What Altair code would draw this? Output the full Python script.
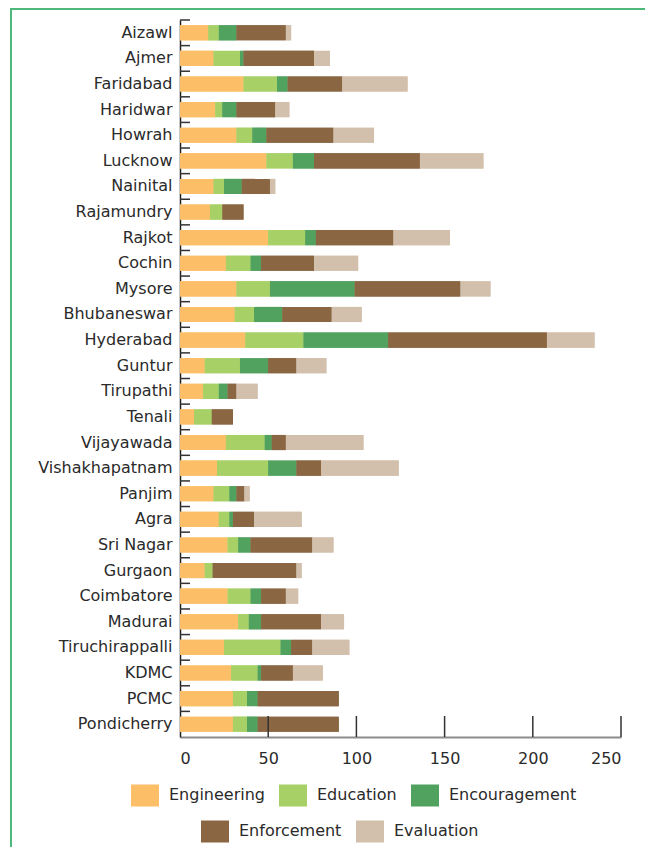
import altair as alt
import pandas as pd

cities = ["Aizawl", "Ajmer", "Faridabad", "Haridwar", "Howrah", "Lucknow", "Nainital",
          "Rajamundry", "Rajkot", "Cochin", "Mysore", "Bhubaneswar", "Hyderabad", "Guntur",
          "Tirupathi", "Tenali", "Vijayawada", "Vishakhapatnam", "Panjim", "Agra", "Sri Nagar",
          "Gurgaon", "Coimbatore", "Madurai", "Tiruchirappalli", "KDMC", "PCMC", "Pondicherry"]

engineering = [16, 19, 36, 20, 32, 49, 19, 17, 50, 26, 32, 31, 37, 14, 13, 8, 26, 21, 19, 22, 27, 14, 27, 33, 25, 29, 30, 30]
education = [6, 15, 19, 4, 9, 15, 6, 7, 21, 14, 19, 11, 33, 20, 9, 10, 22, 29, 9, 6, 6, 4.5, 13, 6, 32, 15, 8, 8]
encouragement = [10, 2, 6, 8, 8, 12, 10, 0, 6, 6, 48, 16, 48, 16, 5, 0, 4, 16, 4, 2, 7, 0, 6, 7, 6, 2, 6, 6]
enforcement = [28, 40, 31, 22, 38, 60, 16, 12, 44, 30, 60, 28, 90, 16, 5, 12, 8, 14, 4.5, 12, 35, 47.5, 14, 34, 12, 18, 46, 46]
evaluation = [3, 9, 37, 8, 23, 36, 3, 0, 32, 25, 17, 17, 27, 17, 12, 0, 44, 44, 3, 27, 12, 3, 7, 13, 21, 17, 0, 0]

series = ["Engineering", "Education", "Encouragement", "Enforcement", "Evaluation"]
colors = ["#FCBF68", "#A7D067", "#52A25F", "#8A6642", "#D2C0AC"]
x_ticks = [0, 50, 100, 150, 200, 250]

values_by_series = [engineering, education, encouragement, enforcement, evaluation]
rows = []
for si, (name, vals) in enumerate(zip(series, values_by_series)):
    for city, v in zip(cities, vals):
        if v > 0:
            rows.append({"city": city, "series": name, "value": v, "idx": si})
df = pd.DataFrame(rows)

W, H = 441, 717
N = len(cities)
step = H / N
FONT = "DejaVu Sans"
TXT = "#2a2a2a"

yscale = alt.Scale(paddingInner=0.41, paddingOuter=0.205)
cscale = alt.Scale(domain=series, range=colors)
sym_path = "M-1,-0.786H1V0.786H-1Z"


def legend(vals, lx, ly):
    return alt.Legend(
        values=vals, orient="none", legendX=lx, legendY=ly, direction="horizontal",
        title=None, symbolType=sym_path, symbolSize=784, symbolStrokeWidth=0,
        symbolOpacity=1, labelFont=FONT, labelFontSize=16, labelColor=TXT,
        labelOffset=10, columnPadding=14, padding=0, labelLimit=300,
    )


def bars(leg):
    return alt.Chart(df).mark_bar(opacity=1).encode(
        x=alt.X("value:Q", stack="zero",
                scale=alt.Scale(domain=[0, 250], nice=False),
                axis=alt.Axis(values=x_ticks, title=None, grid=False, ticks=False, tickSize=0,
                              domainColor="#8c8c8c", domainWidth=2, labelFont=FONT,
                              labelFontSize=16, labelColor=TXT, labelPadding=13)),
        y=alt.Y("city:N", sort=cities, scale=yscale,
                axis=alt.Axis(title=None, ticks=False, tickSize=0, domainColor="#222222",
                              domainWidth=1.5, labelFont=FONT, labelFontSize=16,
                              labelColor=TXT, labelPadding=8, labelLimit=300)),
        color=alt.Color("series:N", scale=cscale, legend=leg),
        order=alt.Order("idx:Q"),
    )


bars_back = bars(legend(series[3:], 21, 797))
bars_front = bars(legend(series[:3], -49, 761))

ytick_df = pd.DataFrame({"city": cities})
yticks = alt.Chart(ytick_df).mark_rule(color="#333333", strokeWidth=1.5, yOffset=-step / 2).encode(
    y=alt.Y("city:N", sort=cities, scale=yscale),
    x=alt.value(0), x2=alt.value(10),
)

xtick_df = pd.DataFrame({"v": x_ticks[1:]})
xticks = alt.Chart(xtick_df).mark_rule(color="#333333", strokeWidth=1.5).encode(
    x=alt.X("v:Q"),
    y=alt.value(H - 21), y2=alt.value(H),
)

one = pd.DataFrame({"k": [0]})
frame_top = alt.Chart(one).mark_rule(color="#4DB879", strokeWidth=2).encode(
    x=alt.value(-170), x2=alt.value(W + 40), y=alt.value(-11))
frame_left = alt.Chart(one).mark_rule(color="#4DB879", strokeWidth=2).encode(
    x=alt.value(-169), y=alt.value(-12), y2=alt.value(H + 120))

chart = alt.layer(bars_back, bars_front, yticks, xticks, frame_top, frame_left).resolve_scale(
    color="independent"
).properties(
    width=W, height=H,
    autosize="none",
    padding={"left": 172, "top": 12, "right": 24, "bottom": 110},
).configure_view(stroke=None)

chart.save("out.html", embed_options={"renderer": "svg", "actions": False})
